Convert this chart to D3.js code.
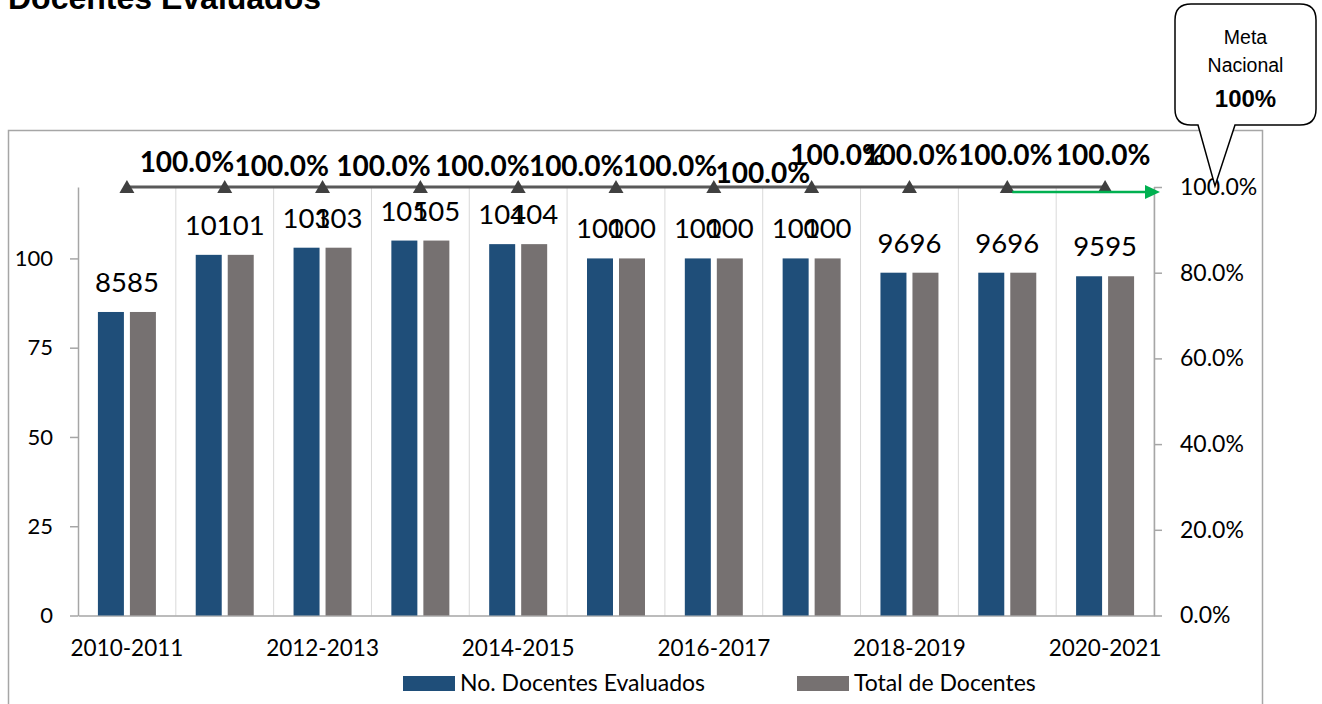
<!DOCTYPE html>
<html>
<head>
<meta charset="utf-8">
<script src="https://cdn.jsdelivr.net/npm/d3@7"></script>
<style>
  html, body { margin: 0; padding: 0; background: #fff; }
  svg { display: block; }
</style>
</head>
<body>
<svg id="chart" width="1322" height="704"></svg>
<script>
// ---------- data ----------
const categories = ["2010-2011","2011-2012","2012-2013","2013-2014","2014-2015","2015-2016","2016-2017","2017-2018","2018-2019","2019-2020","2020-2021"];
const evaluados  = [85, 101, 103, 105, 104, 100, 100, 100, 96, 96, 95];
const totales    = [85, 101, 103, 105, 104, 100, 100, 100, 96, 96, 95];
const porcentaje = [1, 1, 1, 1, 1, 1, 1, 1, 1, 1, 1];
const xTickLabels = ["2010-2011","2012-2013","2014-2015","2016-2017","2018-2019","2020-2021"];
const leftTicks  = [0, 25, 50, 75, 100];
const rightTicks = [0, 0.2, 0.4, 0.6, 0.8, 1.0];
const seriesNames = ["No. Docentes Evaluados", "Total de Docentes"];
const title = "Docentes Evaluados";
const calloutLines = ["Meta", "Nacional", "100%"];
// manual label nudges (as placed in the original), in px relative to each point
const pctLabelDx = [60, 57, 61, 62, 58, 54, 49, 26, 1, -2, -2];
const pctLabelDy = [-15, -11, -11, -11, -11, -11, -4, -22, -22, -22, -22];

// ---------- layout ----------
const colors = ["#1F4E79", "#767171"];
const plot = { left: 78, right: 1154, top: 187, bottom: 615.5 };
const svg = d3.select("#chart");

const x = d3.scaleBand().domain(categories).range([plot.left, plot.right]).padding(0);
const bw = x.bandwidth();
const groupW = 58;
const x1 = d3.scaleBand().domain([0, 1]).range([(bw - groupW) / 2, (bw + groupW) / 2]).paddingInner(0.1875).paddingOuter(0);
const yL = d3.scaleLinear().domain([0, 120]).range([plot.bottom, plot.top]);
const yR = d3.scaleLinear().domain([0, 1]).range([plot.bottom, plot.top]);

// title
svg.append("text").attr("x", 8).attr("y", 9)
  .attr("font-family", "Liberation Sans, Arial, sans-serif").attr("font-weight", "bold")
  .attr("font-size", 32).attr("fill", "#000").text(title);

// outer chart border
svg.append("rect").attr("x", 8.5).attr("y", 130.5).attr("width", 1254).attr("height", 620)
  .attr("fill", "none").attr("stroke", "#a6a6a6").attr("stroke-width", 1.5);

// vertical gridlines at category boundaries
svg.append("g").selectAll("line").data(categories)
  .join("line")
  .attr("x1", d => x(d) + bw).attr("x2", d => x(d) + bw)
  .attr("y1", plot.top).attr("y2", plot.bottom)
  .attr("stroke", "#d9d9d9").attr("stroke-width", 1);

// left axis
const gL = svg.append("g").attr("transform", `translate(${plot.left},0)`)
  .call(d3.axisLeft(yL).tickValues(leftTicks).tickSize(8).tickSizeOuter(0).tickPadding(17));
gL.select(".domain").attr("stroke", "#a6a6a6").attr("stroke-width", 1.5);
gL.selectAll(".tick line").attr("stroke", "#a6a6a6").attr("stroke-width", 1.5);
gL.selectAll("text").attr("font-family", "Lato, sans-serif").attr("font-size", 22).attr("fill", "#000");

// right axis
const gR = svg.append("g").attr("transform", `translate(${plot.right},0)`)
  .call(d3.axisRight(yR).tickValues(rightTicks).tickSize(8).tickSizeOuter(0).tickPadding(18).tickFormat(d3.format(".1%")));
gR.select(".domain").attr("stroke", "#a6a6a6").attr("stroke-width", 1.5);
gR.selectAll(".tick line").attr("stroke", "#a6a6a6").attr("stroke-width", 1.5);
gR.selectAll("text").attr("font-family", "Lato, sans-serif").attr("font-size", 23).attr("fill", "#000");

// bottom axis
const gB = svg.append("g").attr("transform", `translate(0,${plot.bottom})`)
  .call(d3.axisBottom(x).tickValues(xTickLabels).tickSize(0).tickSizeOuter(0).tickPadding(25));
gB.select(".domain").attr("stroke", "#a6a6a6").attr("stroke-width", 1.5);
gB.selectAll("text").attr("font-family", "Lato, sans-serif").attr("font-size", 22.5).attr("fill", "#000");

// bars
const series = [evaluados, totales];
series.forEach((vals, s) => {
  const g = svg.append("g");
  g.selectAll("rect").data(vals).join("rect")
    .attr("x", (d, i) => x(categories[i]) + x1(s))
    .attr("width", x1.bandwidth())
    .attr("y", d => yL(d))
    .attr("height", d => yL(0) - yL(d))
    .attr("fill", colors[s]);
});
series.forEach((vals, s) => {
  svg.append("g").selectAll("text").data(vals).join("text")
    .attr("x", (d, i) => x(categories[i]) + x1(s) + x1.bandwidth() / 2)
    .attr("y", d => yL(d) - 20)
    .attr("text-anchor", "middle")
    .attr("font-family", "Lato, sans-serif").attr("font-size", 27.5).attr("fill", "#000")
    .text(d => d);
});

// percentage line
const cx = (i) => x(categories[i]) + bw / 2;
svg.append("path").datum(porcentaje)
  .attr("d", d3.line().x((d, i) => cx(i)).y(d => yR(d)))
  .attr("fill", "none").attr("stroke", "#595959").attr("stroke-width", 3);
svg.append("g").selectAll("path").data(porcentaje).join("path")
  .attr("transform", (d, i) => `translate(${cx(i)},${yR(d)})`)
  .attr("d", "M0,-7 L7.5,6 L-7.5,6 Z")
  .attr("fill", "#404040");
svg.append("g").selectAll("text").data(porcentaje).join("text")
  .attr("x", (d, i) => cx(i) + pctLabelDx[i])
  .attr("y", (d, i) => yR(d) + pctLabelDy[i])
  .attr("text-anchor", "middle")
  .attr("font-family", "Lato, sans-serif").attr("font-weight", "bold").attr("font-size", 28).attr("fill", "#000")
  .text(d => d3.format(".1%")(d));

// green goal arrow
const ay = yR(1) + 5;
const ax0 = cx(9) + 5, ax1 = plot.right + 6;
svg.append("line").attr("x1", ax0).attr("x2", ax1 - 12).attr("y1", ay).attr("y2", ay)
  .attr("stroke", "#00B050").attr("stroke-width", 2.5);
svg.append("path").attr("d", `M${ax1},${ay} L${ax1 - 15},${ay - 7} L${ax1 - 15},${ay + 7} Z`).attr("fill", "#00B050");

// legend
const legend = svg.append("g");
const legX = [403, 797];
seriesNames.forEach((n, s) => {
  legend.append("rect").attr("x", legX[s]).attr("y", 676).attr("width", 52).attr("height", 15).attr("fill", colors[s]);
  legend.append("text").attr("x", legX[s] + 57).attr("y", 691)
    .attr("font-family", "Lato, sans-serif").attr("font-size", 23).attr("fill", "#000").text(n);
});

// callout
const bx0 = 1175, bx1 = 1316, by0 = 4, by1 = 125, r = 16;
const tipX = plot.right + 61, tipY = yR(1) - 1;
const callout = `M${bx0 + r},${by0} H${bx1 - r} Q${bx1},${by0} ${bx1},${by0 + r} V${by1 - r} Q${bx1},${by1} ${bx1 - r},${by1}
  H1235 L${tipX},${tipY} L1198,${by1} H${bx0 + r} Q${bx0},${by1} ${bx0},${by1 - r} V${by0 + r} Q${bx0},${by0} ${bx0 + r},${by0} Z`;
svg.append("path").attr("d", callout).attr("fill", "#fff").attr("stroke", "#000").attr("stroke-width", 1.5);
const cmx = (bx0 + bx1) / 2;
svg.append("text").attr("x", cmx).attr("y", 44).attr("text-anchor", "middle")
  .attr("font-family", "Liberation Sans, Arial, sans-serif").attr("font-size", 19.5).text(calloutLines[0]);
svg.append("text").attr("x", cmx).attr("y", 72).attr("text-anchor", "middle")
  .attr("font-family", "Liberation Sans, Arial, sans-serif").attr("font-size", 19.5).text(calloutLines[1]);
svg.append("text").attr("x", cmx).attr("y", 107).attr("text-anchor", "middle")
  .attr("font-family", "Liberation Sans, Arial, sans-serif").attr("font-weight", "bold").attr("font-size", 24).text(calloutLines[2]);
</script>
</body>
</html>
